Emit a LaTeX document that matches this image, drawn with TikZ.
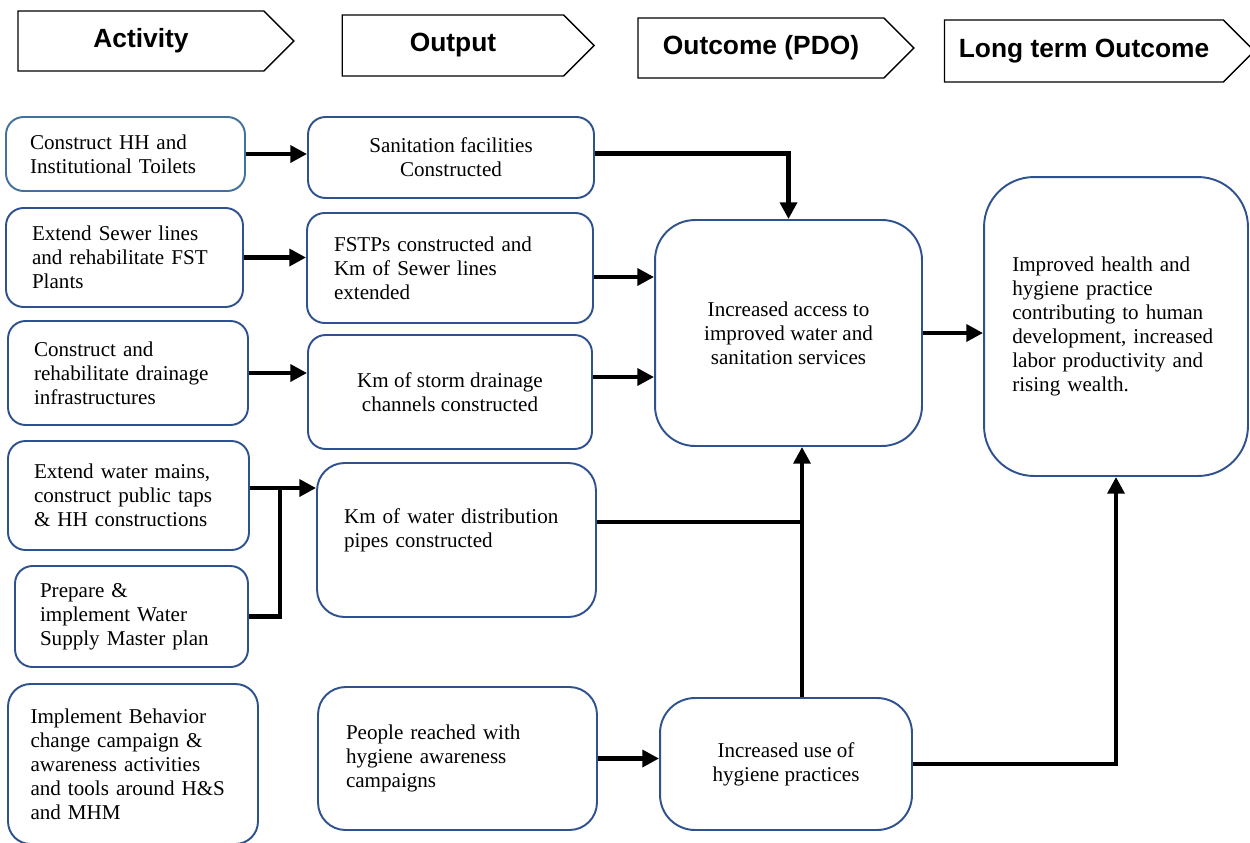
\documentclass[tikz,border=0pt]{standalone}
\usepackage{fontspec}
\setmainfont{Liberation Serif}
\newfontfamily\headfont{Liberation Sans}
\usepackage{tikz}
\usetikzlibrary{shapes,shapes.symbols,arrows.meta,positioning,calc}
\definecolor{boxblue}{RGB}{47,82,143}
\definecolor{boxlight}{RGB}{65,113,156}
\tikzstyle{head} = [signal, signal to=east, signal from=nowhere, signal pointer angle=90,
    draw=black, line width=0.8pt, font=\headfont\bfseries\fontsize{15}{18}\selectfont,
    minimum height=1.2cm, inner sep=0pt]
\tikzstyle{box} = [draw=boxblue, line width=1.1pt, rounded corners=0.35cm,
    font=\fontsize{12}{13.6}\selectfont, inner sep=0pt]
\tikzstyle{arrow} = [line width=2.6pt,-{Triangle[length=9.5pt,width=9.5pt]}]
\tikzstyle{link} = [line width=2.6pt]

\begin{document}
\begin{tikzpicture}[x=0.02cm,y=-0.02cm]
\useasboundingbox (0,0) rectangle (1250,842);
% column headers
\node[head, minimum width=5.52cm] (act) at (141,41) {Activity};
\node[head, minimum width=5.04cm, minimum height=1.22cm] (outp) at (453,45.5) {Output};
\node[head, minimum width=5.52cm] (outc) at (761,48) {Outcome (PDO)};
\node[head, minimum width=6.2cm, minimum height=1.24cm] (ltout) at (1084,51) {Long term Outcome};
% activities
\node[box, draw=boxlight, minimum width=4.78cm, minimum height=1.48cm, text width=3.82cm, align=left] (toilets) at (125.5,154) {Construct HH and\\Institutional Toilets};
\node[box, minimum width=4.74cm, minimum height=1.98cm, text width=3.7cm, align=left] (sewer) at (124.5,257.5) {Extend Sewer lines\\and rehabilitate FST\\Plants};
\node[box, minimum width=4.8cm, minimum height=2.08cm, text width=3.76cm, align=left] (drain) at (128,373) {Construct and\\rehabilitate drainage\\infrastructures};
\node[box, minimum width=4.82cm, minimum height=2.18cm, text width=3.78cm, align=left] (mains) at (128.5,495.5) {Extend water mains,\\construct public taps\\\& HH constructions};
\node[box, minimum width=4.66cm, minimum height=2.02cm, text width=3.66cm, align=left] (master) at (131.5,616.5) {Prepare \&\\implement Water\\Supply Master plan};
\node[box, rounded corners=0.45cm, minimum width=5cm, minimum height=3.2cm, text width=4.1cm, align=left] (behav) at (133,764) {Implement Behavior\\change campaign \&\\awareness activities\\and tools around H\&S\\and MHM};
% outputs
\node[box, minimum width=5.72cm, minimum height=1.62cm, align=center] (sanit) at (451,157.5) {Sanitation facilities\\Constructed};
\node[box, minimum width=5.72cm, minimum height=2.2cm, text width=4.64cm, align=left] (fstp) at (450,268) {FSTPs constructed and\\Km of Sewer lines\\extended};
\node[box, minimum width=5.68cm, minimum height=2.28cm, align=center] (storm) at (450,392) {Km of storm drainage\\channels constructed};
\node[box, rounded corners=0.55cm, minimum width=5.58cm, minimum height=3.08cm, text width=4.5cm, align=left] (pipes) at (456.5,540) {Km of water distribution\\pipes constructed\\\mbox{}};
\node[box, rounded corners=0.55cm, minimum width=5.58cm, minimum height=2.86cm, text width=4.46cm, align=left] (people) at (457.5,758.5) {People reached with\\hygiene awareness\\campaigns};
% outcomes
\node[box, rounded corners=0.8cm, minimum width=5.34cm, minimum height=4.52cm, align=center] (access) at (788.5,333) {Increased access to\\improved water and\\sanitation services};
\node[box, rounded corners=0.7cm, minimum width=5.04cm, minimum height=2.64cm, align=center] (usehyg) at (786,764) {Increased use of\\hygiene practices};
\node[box, rounded corners=1cm, minimum width=5.28cm, minimum height=5.98cm, text width=4.15cm, align=left] (health) at (1116,326.5) {Improved health and\\hygiene practice\\contributing to human\\development, increased\\labor productivity and\\rising wealth.};
% connectors
\draw[arrow] (toilets.east) -- (toilets.east -| sanit.west);
\draw[arrow] (sewer.east) -- (sewer.east -| fstp.west);
\draw[arrow] (drain.east) -- (drain.east -| storm.west);
\coordinate (tap) at (280,488);
\draw[arrow] (mains.east |- tap) -- (tap -| pipes.west);
\draw[link] (master.east) -- (master.east -| tap) -- (tap);
\draw[arrow] ([yshift=0.08cm]sanit.east) -| (access.north);
\draw[arrow] ([yshift=-0.18cm]fstp.east) -- ([yshift=-0.18cm]fstp.east -| access.west);
\draw[arrow] ([yshift=0.3cm]storm.east) -- ([yshift=0.3cm]storm.east -| access.west);
\coordinate (join) at (802,522);
\draw[link] (pipes.east |- join) -- (join);
\draw[arrow] (usehyg.north -| join) -- (access.south -| join);
\draw[arrow] (people.east) -- (people.east -| usehyg.west);
\draw[arrow] (access.east) -- (access.east -| health.west);
\draw[arrow] (usehyg.east) -| (health.south);
\end{tikzpicture}
\end{document}
